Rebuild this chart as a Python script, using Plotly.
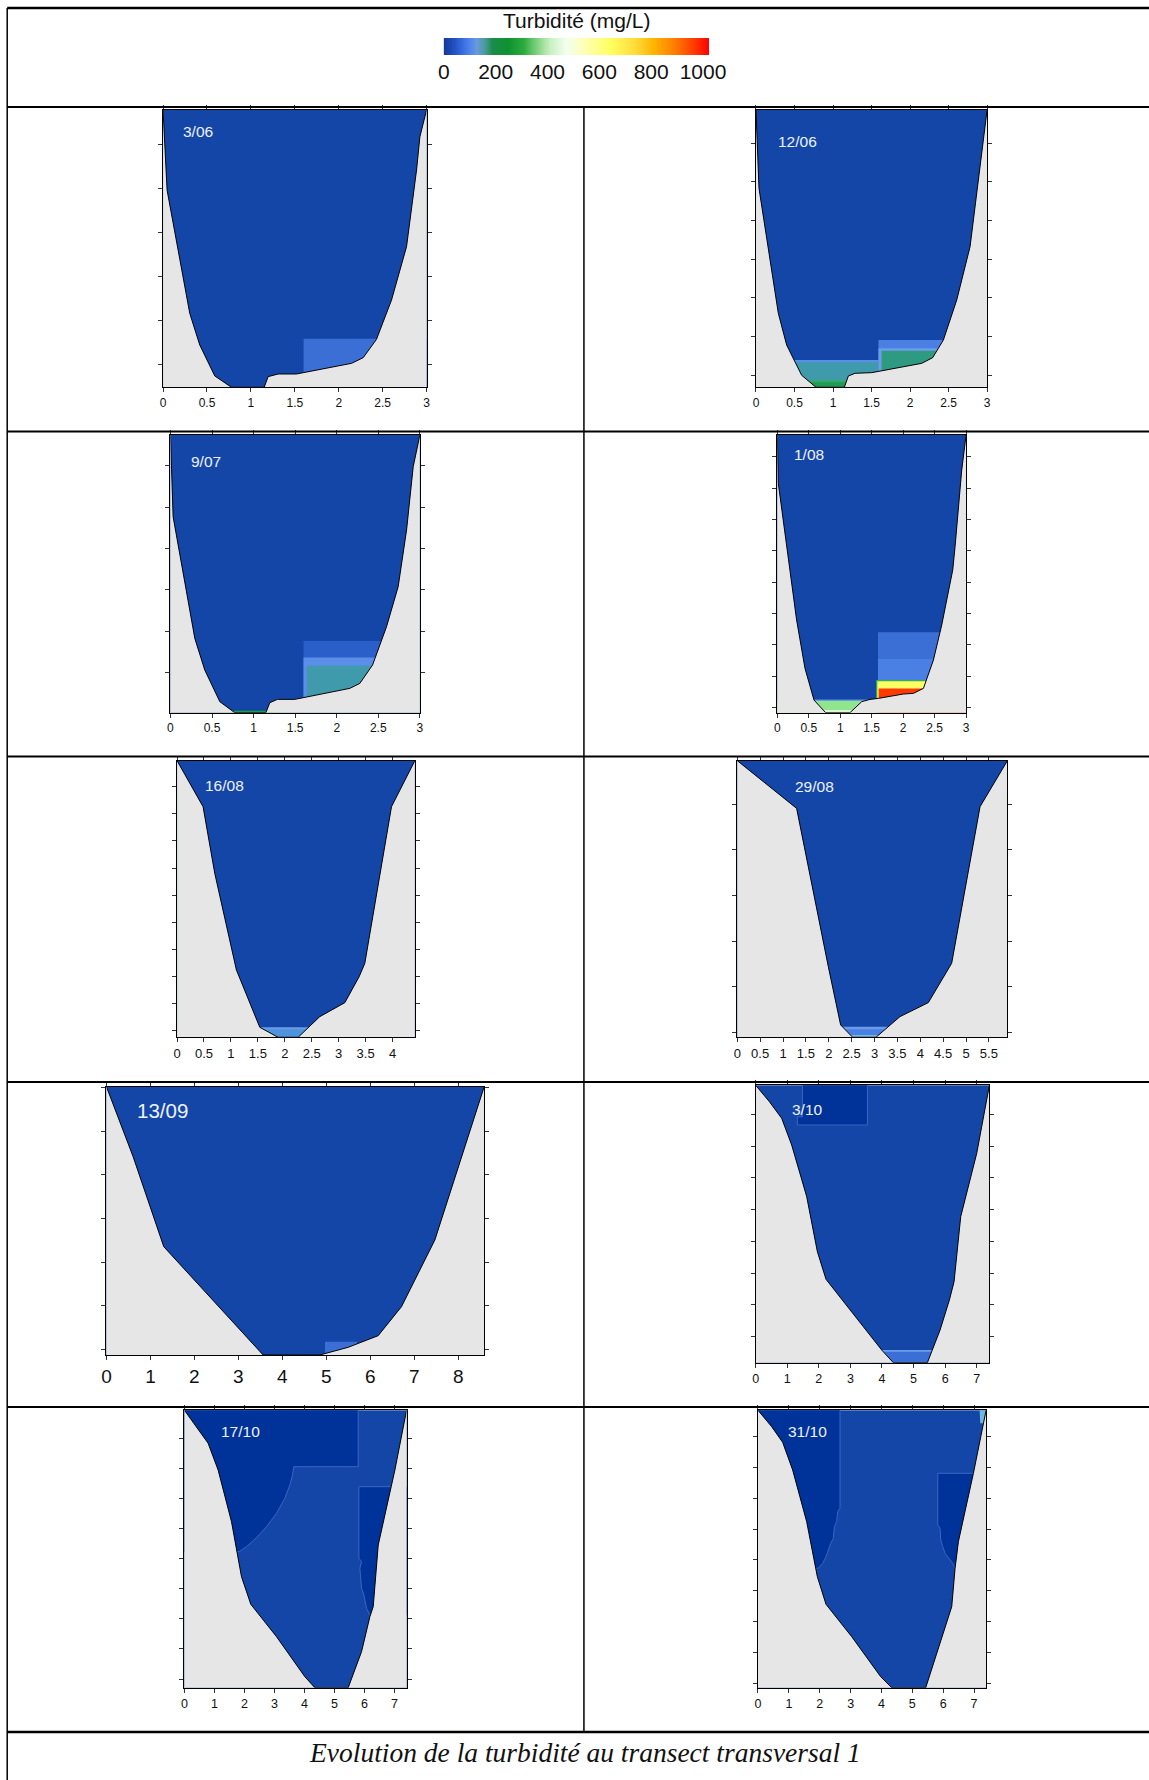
import numpy as np
import plotly.graph_objects as go

W, H = 1149, 1780          # browser window / figure size
# horizontal mapping of the photographed page (screen_x = A + S * page_x)
SX_A, SX_S = 6.3, 0.9796
BED = -9.0  # level below every plotted point (closes the bed polygons)

# ---------------- data ----------------
DATES = ["3/06", "12/06", "9/07", "1/08", "16/08", "29/08", "13/09", "3/10", "17/10", "31/10"]

# cross-section profiles: distance across (m) / level (axis tick units)
P1_X = [0.0, 0.046, 0.304, 0.418, 0.589, 0.779, 1.151, 1.196, 1.31, 1.519, 2.146, 2.279, 2.43, 2.601, 2.772, 2.886, 2.924, 3.0]
P1_Y = [5.78, 3.96, 1.165, 0.446, -0.257, -0.514, -0.514, -0.272, -0.212, -0.212, 0.03, 0.159, 0.575, 1.467, 2.678, 4.418, 5.174, 5.78]

P2_X = [0.0, 0.039, 0.29, 0.398, 0.593, 0.779, 1.147, 1.199, 1.286, 1.502, 2.152, 2.294, 2.433, 2.606, 2.779, 2.9, 3.0]
P2_Y = [6.862, 4.836, 1.603, 0.784, 0.0, -0.31, -0.31, -0.017, 0.052, 0.069, 0.31, 0.457, 0.914, 1.948, 3.328, 5.31, 6.862]

P3_X = [0.0, 0.032, 0.293, 0.413, 0.594, 0.774, 1.147, 1.195, 1.287, 1.496, 2.158, 2.278, 2.431, 2.599, 2.739, 2.84, 2.92, 3.0]
P3_Y = [5.741, 3.768, 0.829, 0.064, -0.7, -0.966, -0.966, -0.725, -0.644, -0.644, -0.378, -0.258, 0.185, 1.111, 2.077, 3.446, 4.976, 5.741]

P4_X = [0.0, 0.016, 0.307, 0.44, 0.583, 0.769, 1.155, 1.341, 1.473, 1.606, 2.003, 2.163, 2.322, 2.481, 2.613, 2.788, 2.825, 2.931, 3.0]
P4_Y = [8.691, 7.149, 2.787, 1.245, 0.234, -0.17, -0.17, 0.181, 0.255, 0.287, 0.426, 0.447, 0.606, 1.511, 2.628, 4.383, 5.128, 7.574, 8.691]

P5_X = [0.0, 0.483, 0.7, 1.102, 1.536, 1.876, 2.248, 2.65, 3.115, 3.381, 3.486, 3.981, 4.415]
P5_Y = [9.959, 8.262, 5.803, 2.238, 0.123, -0.246, -0.246, 0.516, 1.033, 1.992, 2.484, 8.262, 9.959]

P6_X = [0.0, 1.297, 1.99, 2.259, 2.522, 3.032, 3.557, 4.176, 4.686, 5.306, 5.904]
P6_Y = [5.958, 4.912, 1.44, 0.161, -0.11, -0.11, 0.344, 0.651, 1.513, 4.949, 5.958]

P7_X = [0.0, 0.607, 1.304, 3.563, 4.852, 5.497, 6.179, 6.71, 7.468, 8.59]
P7_Y = [6.015, 4.412, 2.351, -0.13, -0.13, 0.046, 0.313, 0.977, 2.504, 6.015]

P8_X = [0.0, 0.433, 0.824, 1.14, 1.616, 1.954, 2.228, 3.041, 3.992, 4.361, 5.438, 5.84, 6.135, 6.283, 6.494, 7.001, 7.402]
P8_Y = [7.912, 7.398, 6.873, 6.034, 4.407, 2.676, 1.805, 0.787, -0.42, -0.818, -0.818, 0.21, 1.154, 1.731, 3.778, 5.771, 7.912]

P9_X = [0.0, 0.4, 0.789, 1.122, 1.567, 1.9, 2.211, 3.067, 4.011, 4.344, 5.456, 5.9, 6.178, 6.289, 6.456, 7.011, 7.4]
P9_Y = [8.931, 8.388, 7.834, 6.947, 5.23, 3.402, 2.482, 1.407, 0.078, -0.288, -0.288, 0.909, 2.072, 2.404, 4.454, 6.947, 8.931]

P10_X = [0.0, 0.443, 0.799, 1.123, 1.577, 1.923, 2.204, 3.036, 3.975, 4.332, 5.434, 6.028, 6.276, 6.384, 6.492, 6.978, 7.389]
P10_Y = [8.854, 8.324, 7.816, 6.919, 5.243, 3.459, 2.562, 1.514, 0.216, -0.141, -0.141, 1.676, 2.486, 3.73, 4.595, 6.811, 8.854]

BASE_TURBIDITY = 20  # mg/L, bulk of the water column


def box(x0, x1, y0, y1, v):
    return ([x0, x1, x1, x0], [y0, y0, y1, y1], v)


# turbidity zones: (xs, ys, turbidity mg/L)
ZONES_1 = [box(1.60, 3.3, BED, 0.59, 50)]
ZONES_2 = [box(-0.5, 1.61, BED, 0.397, 70), box(-0.5, 1.61, BED, 0.336, 120),
           box(-0.5, 1.61, BED, -0.14, 220), box(-0.5, 1.61, BED, -0.18, 170),
           box(1.59, 3.3, BED, 0.914, 60), box(1.59, 3.3, BED, 0.698, 80),
           box(1.63, 3.3, BED, 0.638, 140)]
ZONES_3 = [box(0.6, 1.3, BED, -0.918, 190), box(1.6, 3.3, BED, 0.765, 40),
           box(1.6, 3.3, BED, 0.37, 70), box(1.64, 3.3, BED, 0.169, 120)]
ZONES_4 = [box(-0.5, 1.6, BED, 0.255, 70), box(-0.5, 1.6, BED, 0.215, 350),
           box(-0.5, 1.6, BED, -0.085, 480), box(1.6, 3.3, BED, 2.394, 50),
           box(1.6, 3.3, BED, 1.543, 60), box(1.57, 3.3, BED, 0.872, 220),
           box(1.59, 3.3, BED, 0.83, 650), box(1.61, 3.3, BED, 0.606, 950)]
ZONES_5 = [box(1.3, 2.9, BED, 0.123, 80), box(1.3, 2.9, BED, 0.049, 90)]
ZONES_6 = [box(2.0, 3.6, BED, 0.124, 80), box(2.0, 3.6, BED, 0.066, 60),
           box(2.0, 3.6, BED, -0.058, 100)]
ZONES_7 = [box(4.97, 5.7, BED, 0.176, 50)]
ZONES_8 = [([1.48, 3.54, 3.54, 1.32, 1.32, 1.48], [9.5, 9.5, 6.663, 6.663, 6.92, 6.92], 10),
           box(3.8, 5.9, BED, -0.42, 80), box(3.8, 5.9, BED, -0.472, 50)]
ZONES_9 = [([-0.5, 5.789, 5.789, 3.644, 3.6, 3.511, 3.344, 3.067, 2.733, 2.4, 2.067, 1.822, -0.5],
            [9.5, 9.5, 7.058, 7.058, 6.781, 6.449, 6.006, 5.507, 5.064, 4.698, 4.399, 4.233, 4.233], 10),
           ([5.811, 7.8, 7.8, 6.178, 6.067, 5.978, 5.9, 5.844, 5.9, 5.811],
            [6.393, 6.393, 2.127, 2.127, 2.349, 2.792, 3.014, 3.679, 3.9, 4.011], 10)]
ZONES_10 = [([-0.5, 2.657, 2.657, 2.582, 2.549, 2.474, 2.441, 2.355, 2.279, 2.204, 2.096, 1.955, -0.5],
             [9.5, 9.5, 5.676, 5.568, 5.243, 5.081, 4.703, 4.541, 4.324, 4.108, 3.892, 3.73, 3.73], 10),
            ([5.823, 7.8, 7.8, 6.384, 6.308, 6.168, 6.06, 5.985, 5.92, 5.898, 5.823],
             [6.811, 6.811, 3.73, 3.73, 3.892, 4.076, 4.216, 4.432, 4.649, 5.027, 5.135], 10),
            ([7.15, 7.8, 7.8, 7.2], [9.5, 9.5, 8.432, 8.432], 100)]

CB_TICKS = [0, 200, 400, 600, 800, 1000]
CB_MAX = 1023

CAPTION = "Evolution de la turbidité au transect transversal 1"
CB_TITLE = "Turbidité (mg/L)"

# ---------------- style ----------------
TURB = {
    10: "#003399", 20: "#1446a8", 40: "#2a5ec8", 50: "#3c6fd6", 60: "#4a80e4",
    70: "#5a8ee8", 80: "#6c9ce8", 90: "#4e94dc", 100: "#6fb8e0", 120: "#3f9aab",
    140: "#2e9a82", 170: "#1f9b57", 190: "#1fa03a", 220: "#30b050", 350: "#8fe68f",
    480: "#dcf8d4", 650: "#ffff66", 950: "#ff3a00",
}
LAND = "#e6e6e6"
EDGE = "#3d64c2"
FONT = "Liberation Sans, Arial, sans-serif"

CB_SCALE = [
    [0.0, "#163a98"], [0.03, "#1e4ab6"], [0.06, "#3062d8"], [0.095, "#4c82ec"],
    [0.125, "#6a9ade"], [0.155, "#4a9a9a"], [0.185, "#1a8c48"], [0.24, "#0f9132"],
    [0.30, "#2aab3c"], [0.35, "#80d080"], [0.40, "#c8f0c0"], [0.46, "#f2fff0"],
    [0.53, "#ffffb4"], [0.63, "#ffff60"], [0.72, "#ffdc3c"], [0.79, "#ffb400"],
    [0.87, "#ff7d00"], [0.94, "#ff3c00"], [1.0, "#ff0000"],
]

PANELS = [(P1_X, P1_Y, ZONES_1), (P2_X, P2_Y, ZONES_2), (P3_X, P3_Y, ZONES_3),
          (P4_X, P4_Y, ZONES_4), (P5_X, P5_Y, ZONES_5), (P6_X, P6_Y, ZONES_6),
          (P7_X, P7_Y, ZONES_7), (P8_X, P8_Y, ZONES_8), (P9_X, P9_Y, ZONES_9),
          (P10_X, P10_Y, ZONES_10)]

# plot boxes in screen pixels: left, top, right, bottom
BOXES = [(163.3, 110, 426.7, 387.3), (756, 110, 987, 387.3),
         (170.7, 435, 420, 712.7), (777.3, 435, 966, 712.7),
         (177.3, 760.7, 415, 1037.3), (737.3, 760.7, 1007.3, 1037.3),
         (106.7, 1086.7, 484.3, 1355), (755.7, 1085.3, 989.3, 1362.7),
         (184.7, 1410.3, 406.7, 1687.7), (758, 1410.3, 986, 1687.7)]
DTICK_X = [0.5, 0.5, 0.5, 0.5, 0.5, 0.5, 1, 1, 1, 1]
TICK_FS = [12, 12, 12, 12, 13, 13, 19, 12.5, 12.5, 12.5]
LABEL_POS = [(181, 131.7), (776, 141.7), (189.3, 461.7), (791.7, 454.3), (203.3, 785),
             (793.3, 786), (135, 1110.7), (790, 1109), (219.3, 1431.7), (786, 1431.7)]
LABEL_FS = [15.5, 15.5, 15.5, 15.5, 15.5, 15.5, 20.5, 15.5, 15.5, 15.5]


def px_x(v):
    return ((v - SX_A) / SX_S) / W


def px_y(v):
    return 1 - v / H


fig = go.Figure()
layout = dict(width=W, height=H, autosize=False, margin=dict(l=0, r=0, t=0, b=0, pad=0),
              paper_bgcolor="white", plot_bgcolor=TURB[BASE_TURBIDITY],
              showlegend=False, font=dict(family=FONT, color="#111"))
annotations = []

for i, (pxs, pys, zones) in enumerate(PANELS):
    n = i + 1
    sfx = "" if n == 1 else str(n)
    xa, ya = "x" + sfx, "y" + sfx
    xmax, ybot, ytop = pxs[-1], min(pys), pys[0]
    for xs, ys, v in zones:
        fig.add_trace(go.Scatter(
            x=xs + xs[:1], y=ys + ys[:1], mode="lines", fill="toself",
            fillcolor=TURB[v], line=dict(width=1 if v == 10 else 0, color=EDGE),
            xaxis=xa, yaxis=ya, hoverinfo="skip"))
    # bank / bed: everything outside the wetted section
    pad = 5
    land_x = pxs + [xmax + pad, xmax + pad, -pad, -pad]
    land_y = pys + [pys[-1], BED, BED, pys[0]]
    fig.add_trace(go.Scatter(
        x=land_x, y=land_y, mode="lines", fill="toself",
        fillcolor=LAND, line=dict(width=0), xaxis=xa, yaxis=ya, hoverinfo="skip"))
    fig.add_trace(go.Scatter(
        x=pxs, y=pys, mode="lines", line=dict(color="black", width=1),
        xaxis=xa, yaxis=ya, hoverinfo="skip"))
    L, T, R, B = BOXES[i]
    common = dict(showline=True, linecolor="black", linewidth=1, mirror="ticks",
                  ticks="outside", ticklen=4, tickcolor="#333", tickwidth=1,
                  showgrid=False, zeroline=False, fixedrange=True)
    layout["xaxis" + sfx] = dict(
        domain=[px_x(L), px_x(R)], range=[0, xmax], anchor=ya,
        tickmode="linear", tick0=0, dtick=DTICK_X[i],
        tickfont=dict(size=TICK_FS[i], color="#111", family=FONT), **common)
    layout["yaxis" + sfx] = dict(
        domain=[px_y(B), px_y(T)], range=[ybot, ytop], anchor=xa,
        tickmode="linear", tick0=0, dtick=1, showticklabels=False, **common)
    lx, ly = LABEL_POS[i]
    annotations.append(dict(
        text=DATES[i], xref="paper", yref="paper", x=px_x(lx), y=px_y(ly),
        xanchor="left", yanchor="middle", showarrow=False,
        font=dict(size=LABEL_FS[i], color="#eef2fa", family=FONT)))

# colour scale strip
cb_x = np.linspace(0, CB_MAX, 512)
fig.add_trace(go.Heatmap(x=cb_x, y=[0], z=[cb_x], colorscale=CB_SCALE, zmin=0, zmax=CB_MAX,
                         showscale=False, xaxis="x11", yaxis="y11", hoverinfo="skip"))
layout["xaxis11"] = dict(domain=[px_x(444), px_x(709)], range=[0, CB_MAX], anchor="y11",
                         tickmode="array", tickvals=CB_TICKS, ticks="", ticklabelstandoff=2,
                         showline=False, showgrid=False,
                         zeroline=False, fixedrange=True,
                         tickfont=dict(size=21, color="#111", family=FONT))
layout["yaxis11"] = dict(domain=[px_y(55), px_y(38)], range=[-0.5, 0.5], anchor="x11",
                         visible=False, fixedrange=True)

annotations.append(dict(text=CB_TITLE, xref="paper", yref="paper", x=px_x(577), y=px_y(21),
                        xanchor="center", yanchor="middle", showarrow=False,
                        font=dict(size=21, color="#111", family=FONT)))
annotations.append(dict(text="<i>" + CAPTION + "</i>", xref="paper", yref="paper",
                        x=px_x(585), y=px_y(1752), xanchor="center", yanchor="middle",
                        showarrow=False,
                        font=dict(size=27.5, color="#111", family="Liberation Serif, Times New Roman, serif")))


# table rules
def hline(y, x0, x1, w):
    return dict(type="line", xref="paper", yref="paper", x0=px_x(x0), x1=px_x(x1),
                y0=px_y(y), y1=px_y(y), line=dict(color="black", width=w))


def vline(x, y0, y1, w):
    return dict(type="line", xref="paper", yref="paper", x0=px_x(x), x1=px_x(x),
                y0=px_y(y0), y1=px_y(y1), line=dict(color="black", width=w))


RIGHT = 1160
shapes = [hline(8, 7.5, RIGHT, 2.5), vline(7.5, 8, H, 1.5), hline(107, 7.5, RIGHT, 2),
          hline(431.5, 7.5, RIGHT, 2), hline(756.5, 7.5, RIGHT, 2), hline(1082, 7.5, RIGHT, 2),
          hline(1407, 7.5, RIGHT, 2), hline(1732, 7.5, RIGHT, 2.5), vline(584, 107, 1732, 1.5)]

layout["annotations"] = annotations
layout["shapes"] = shapes
fig.update_layout(**layout)
fig.write_html("out.html", config={"displayModeBar": False, "responsive": False},
               post_script="document.body.style.margin='0px';document.body.style.overflow='hidden';")
